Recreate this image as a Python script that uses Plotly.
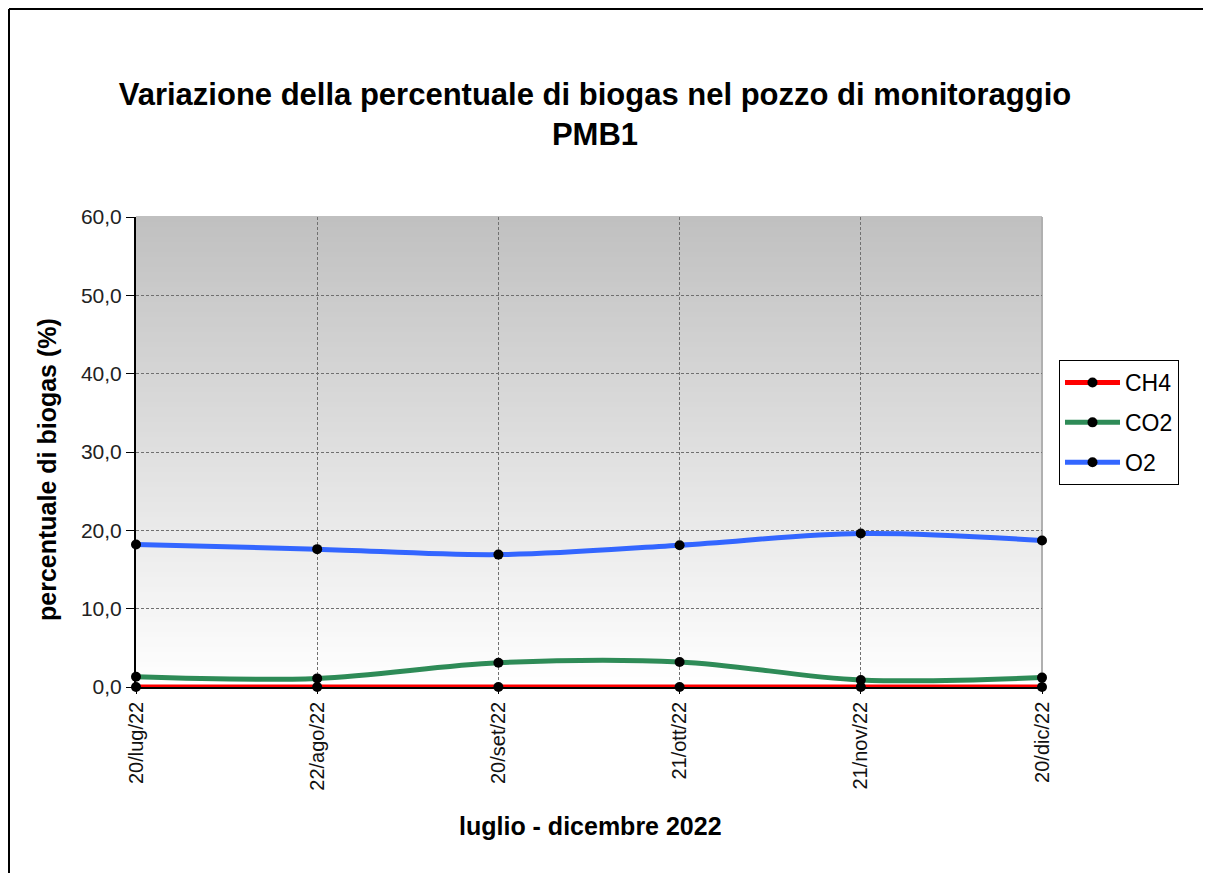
import plotly.graph_objects as go

dates = ["20/lug/22", "22/ago/22", "20/set/22", "21/ott/22", "21/nov/22", "20/dic/22"]
ch4 = [0.0, 0.0, 0.0, 0.0, 0.0, 0.0]
co2 = [1.3, 1.1, 3.1, 3.2, 0.9, 1.2]
o2 = [18.2, 17.6, 16.9, 18.1, 19.6, 18.7]
y_ticks = [0, 10, 20, 30, 40, 50, 60]

# page has an 8px body margin; figure sized to fit the window
OFF = 8
W, H = 1211 - 2 * OFF, 881 - 2 * OFF
L, R, T, B = 136 - OFF, 1042 - OFF, 217 - OFF, 687 - OFF
pw, ph = R - L, B - T

def px(x):
    return (x - OFF - L) / pw

def py(y):
    return (B - (y - OFF)) / ph

FONT = "Liberation Sans, Arial, sans-serif"

fig = go.Figure()
series = [("CH4", ch4, "#ff0000"), ("CO2", co2, "#2e8b57"), ("O2", o2, "#3366ff")]
for name, vals, col in series:
    fig.add_trace(go.Scatter(
        x=dates, y=vals, name=name, mode="lines+markers", legendgroup=name,
        line=dict(color=col, width=5, shape="spline", smoothing=1.0),
        marker=dict(color="black", size=10),
        cliponaxis=False,
    ))

shapes = []
n = 94
for i in range(n):
    f0 = i / n
    f1 = (i + 1) / n
    v = int(round(255 - 63 * ((f0 + f1) / 2)))
    shapes.append(dict(type="rect", xref="x domain", yref="y domain",
                       x0=0, x1=1, y0=f0, y1=f1 + 0.002, line=dict(width=0),
                       fillcolor=f"rgb({v},{v},{v})", layer="below"))
shapes.append(dict(type="line", xref="x domain", yref="y domain", x0=1, x1=1, y0=0, y1=1,
                   line=dict(color="#b0b0b0", width=2), layer="below"))
# outer chart border: only left and top edges are visible in the reference
x_left = (1 - L) / pw
y_top = (B - 1) / ph
shapes.append(dict(type="line", xref="paper", yref="paper",
                   x0=x_left, x1=x_left, y0=y_top, y1=-(H - B) / ph,
                   line=dict(color="black", width=2), layer="above"))
shapes.append(dict(type="line", xref="paper", yref="paper",
                   x0=x_left, x1=(W - L) / pw, y0=y_top, y1=y_top,
                   line=dict(color="black", width=2), layer="above"))

fig.update_layout(
    width=W, height=H,
    margin=dict(l=L, r=W - R, t=T, b=H - B),
    paper_bgcolor="white", plot_bgcolor="white",
    separators=",.",
    font=dict(family=FONT, size=20, color="black"),
    title=dict(text="<b>Variazione della percentuale di biogas nel pozzo di monitoraggio<br>PMB1</b>",
               x=px(595), xref="paper", xanchor="center",
               y=(H - (105 - OFF)) / H, yref="container", yanchor="middle",
               font=dict(family=FONT, size=31, color="black")),
    showlegend=True,
    legend=dict(x=px(1059), y=py(360), xanchor="left", yanchor="top",
                bordercolor="black", borderwidth=1, bgcolor="white",
                font=dict(family=FONT, size=23), tracegroupgap=7, itemwidth=55),
    shapes=shapes,
    annotations=[
        dict(text="<b>percentuale di biogas (%)</b>", xref="paper", yref="paper",
             x=px(47), y=py(470), textangle=-90, showarrow=False,
             xanchor="center", yanchor="middle", font=dict(family=FONT, size=25)),
        dict(text="<b>luglio - dicembre 2022</b>", xref="paper", yref="paper",
             x=px(590), y=py(826), showarrow=False,
             xanchor="center", yanchor="middle", font=dict(family=FONT, size=25)),
    ],
)

fig.update_xaxes(
    type="category", range=[0, len(dates) - 1],
    showgrid=True, gridcolor="#707070", griddash="3px,2px", gridwidth=1,
    showline=True, linecolor="black", linewidth=1.5,
    ticks="outside", ticklen=5, tickcolor="black",
    tickangle=-90, tickfont=dict(family=FONT, size=20, color="#111"),
    zeroline=False,
)
fig.update_yaxes(
    range=[0, 60], tickvals=y_ticks, tickformat=".1f",
    showgrid=True, gridcolor="#707070", griddash="3px,2px", gridwidth=1,
    showline=True, linecolor="black", linewidth=2,
    ticks="outside", ticklen=8, tickcolor="black",
    tickfont=dict(family=FONT, size=21, color="#222"),
    zeroline=False,
)

fig.write_html("out.html")
